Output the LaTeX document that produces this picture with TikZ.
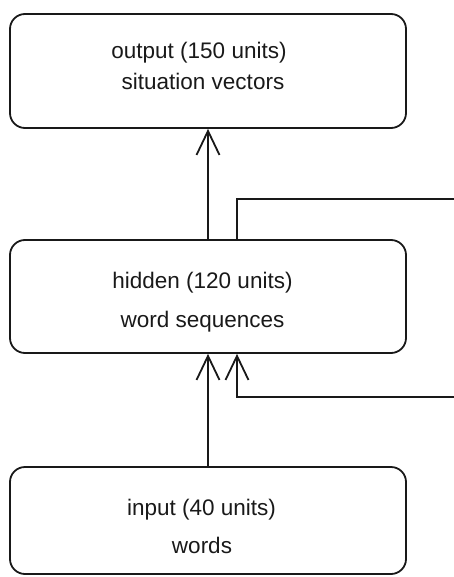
\documentclass[tikz,border=0pt]{standalone}
\usepackage{fontspec}
\setmainfont{Liberation Sans}
\usetikzlibrary{arrows.meta}
\begin{document}
\begin{tikzpicture}[x=1pt,y=-1pt,
  layerbox/.style={draw=black!90,line width=1.8pt,rounded corners=15pt,rectangle,minimum width=396pt,inner sep=0pt},
  lbl/.style={anchor=base,inner sep=0pt,font=\fontsize{22.5}{27}\selectfont,text=black!90},
  conn/.style={draw=black!90,line width=1.8pt},
  tipped/.style={conn,-{Straight Barb[length=24pt,width=23pt]}}]
\useasboundingbox (0,0) rectangle (453,577);
\node[layerbox,minimum height=114pt] (out) at (208,71) {};
\node[layerbox,minimum height=113pt] (hid) at (208,296.5) {};
\node[layerbox,minimum height=107pt] (inp) at (208,520.5) {};
\node[lbl] (o1) at (199,59) {output (150 units)};
\node[lbl] (o2) at (203,90) {situation vectors};
\node[lbl] (h1) at (202.5,288) {hidden (120 units)};
\node[lbl] (h2) at (202.5,327) {word sequences};
\node[lbl] (i1) at (201.5,515) {input (40 units)};
\node[lbl] (i2) at (202,553) {words};
\coordinate (fbtop) at (455,199);
\coordinate (fbbot) at (455,397);
\draw[tipped] (inp.north) -- (hid.south);
\draw[tipped] (hid.north) -- (out.south);
\draw[conn] (hid.north -| 237,0) |- (fbtop);
\draw[tipped] (fbbot) -| (hid.south -| 237,0);
\end{tikzpicture}
\end{document}
